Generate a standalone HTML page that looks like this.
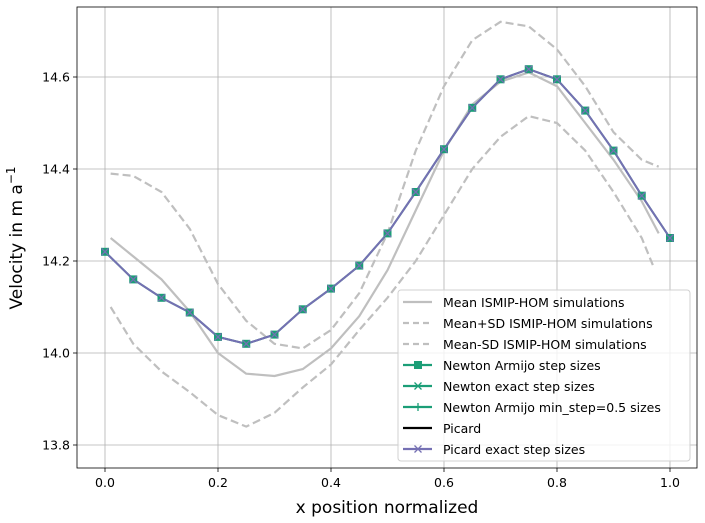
<!DOCTYPE html>
<html><head><meta charset="utf-8"><style>
body{margin:0;background:#fff;font-family:"DejaVu Sans","Liberation Sans",sans-serif}
svg{display:block}
</style></head><body>
<svg id="chart" width="705" height="523" xmlns="http://www.w3.org/2000/svg" font-family="DejaVu Sans, Liberation Sans, sans-serif"></svg>
<script>
const xTicks=[0.0,0.2,0.4,0.6,0.8,1.0];
const yTicks=[13.8,14.0,14.2,14.4,14.6];
const solX=[0,0.05,0.1,0.15,0.2,0.25,0.3,0.35,0.4,0.45,0.5,0.55,0.6,0.65,0.7,0.75,0.8,0.85,0.9,0.95,1.0];
const solY=[14.22,14.16,14.12,14.088,14.035,14.02,14.04,14.095,14.14,14.19,14.26,14.35,14.443,14.533,14.595,14.617,14.595,14.527,14.44,14.342,14.25];
const meanX=[0.01,0.05,0.1,0.15,0.2,0.25,0.3,0.35,0.4,0.45,0.5,0.55,0.6,0.65,0.7,0.75,0.8,0.85,0.9,0.95,0.98];
const meanY=[14.25,14.21,14.16,14.09,14.0,13.955,13.95,13.965,14.01,14.08,14.18,14.31,14.44,14.54,14.59,14.61,14.58,14.5,14.42,14.33,14.26];
const upY=[14.39,14.385,14.35,14.27,14.15,14.07,14.02,14.01,14.05,14.13,14.26,14.44,14.58,14.68,14.72,14.71,14.66,14.58,14.48,14.42,14.405];
const lowX=[0.01,0.05,0.1,0.15,0.2,0.25,0.3,0.35,0.4,0.45,0.5,0.55,0.6,0.65,0.7,0.75,0.8,0.85,0.9,0.95,0.97];
const lowY=[14.10,14.02,13.96,13.915,13.865,13.84,13.87,13.925,13.975,14.05,14.12,14.2,14.3,14.4,14.47,14.515,14.50,14.44,14.35,14.25,14.19];

const L=77,R=697,T=7,B=468;
const sx=v=>105+v*565;
const sy=v=>353-(v-14.0)*460;
const svg=document.getElementById('chart');
const NS='http://www.w3.org/2000/svg';
function el(tag,attrs,parent){const e=document.createElementNS(NS,tag);for(const k in attrs)e.setAttribute(k,attrs[k]);(parent||svg).appendChild(e);return e;}
function pts(xs,ys){return xs.map((x,i)=>sx(x)+','+sy(ys[i])).join(' ');}

xTicks.forEach(t=>{
  const g=el('line',{x1:sx(t),x2:sx(t),y1:T,y2:B,stroke:'#b0b0b0','stroke-width':0.8});
  
  
  el('line',{x1:sx(t),x2:sx(t),y1:B,y2:B+4,stroke:'#000','stroke-width':0.8});
  const tx=el('text',{x:sx(t),y:B+19,'text-anchor':'middle','font-size':12.5,fill:'#000'});
  tx.textContent=t.toFixed(1);
  
  
});
yTicks.forEach(t=>{
  const g=el('line',{x1:L,x2:R,y1:sy(t),y2:sy(t),stroke:'#b0b0b0','stroke-width':0.8});
  
  
  el('line',{x1:L-4,x2:L,y1:sy(t),y2:sy(t),stroke:'#000','stroke-width':0.8});
  const tx=el('text',{x:L-7,y:sy(t)+4.5,'text-anchor':'end','font-size':12.5,fill:'#000'});
  tx.textContent=t.toFixed(1);
  
  
});

const m=el('polyline',{points:pts(meanX,meanY),fill:'none',stroke:'#bfbfbf','stroke-width':2.2,'stroke-linejoin':'round'});


const u=el('polyline',{points:pts(meanX,upY),fill:'none',stroke:'#bfbfbf','stroke-width':2.2,'stroke-dasharray':'8,4'});


const lo=el('polyline',{points:pts(lowX,lowY),fill:'none',stroke:'#bfbfbf','stroke-width':2.2,'stroke-dasharray':'8,4'});



const s1=el('polyline',{points:pts(solX,solY),fill:'none',stroke:'#1b9e77','stroke-width':2});


const s2=el('polyline',{points:pts(solX,solY),fill:'none',stroke:'#000','stroke-width':1.5});


const s3=el('polyline',{points:pts(solX,solY),fill:'none',stroke:'#7570b3','stroke-width':2});


solX.forEach((x,i)=>{
  const r=el('rect',{x:sx(x)-4,y:sy(solY[i])-4,width:8,height:8,fill:'#1b9e77'});
  
  
  const c=el('path',{d:`M${sx(x)-3.5},${sy(solY[i])-3.5}l7,7M${sx(x)-3.5},${sy(solY[i])+3.5}l7,-7`,stroke:'#7570b3','stroke-width':1.3});
  
  
});

const fr=el('rect',{x:L,y:T,width:R-L,height:B-T,fill:'none',stroke:'#000','stroke-width':0.8});



const xl=el('text',{x:387,y:513,'text-anchor':'middle','font-size':17,fill:'#000'});
xl.textContent='x position normalized';


const yl=el('text',{transform:'translate(22,238) rotate(-90)','text-anchor':'middle','font-size':17,fill:'#000'});
yl.innerHTML='Velocity in m a<tspan dy="-7" font-size="12">−1</tspan>';



const lg=el('g',{});


el('rect',{x:398,y:290,width:292,height:171,rx:3,fill:'#fff','fill-opacity':0.8,stroke:'#d0d0d0'},lg);
const entries=[
 ['Mean ISMIP-HOM simulations','#bfbfbf',null,null],
 ['Mean+SD ISMIP-HOM simulations','#bfbfbf','6,4',null],
 ['Mean-SD ISMIP-HOM simulations','#bfbfbf','6,4',null],
 ['Newton Armijo step sizes','#1b9e77',null,'sq'],
 ['Newton exact step sizes','#1b9e77',null,'x'],
 ['Newton Armijo min_step=0.5 sizes','#1b9e77',null,'+'],
 ['Picard','#000',null,null],
 ['Picard exact step sizes','#7570b3',null,'xp']];
entries.forEach((e,i)=>{
  const y=302+i*21;
  const g=el('g',{},lg);
  
  
  const a={x1:403,x2:432,y1:y,y2:y,stroke:e[1],'stroke-width':2.2};
  if(e[2])a['stroke-dasharray']=e[2];
  el('line',a,g);
  if(e[3]==='sq')el('rect',{x:414,y:y-4,width:8,height:8,fill:e[1]},g);
  if(e[3]==='x'||e[3]==='xp')el('path',{d:`M414.5,${y-3.5}l7,7M414.5,${y+3.5}l7,-7`,stroke:e[1],'stroke-width':1.3},g);
  if(e[3]==='+')el('path',{d:`M418,${y-4}v8`,stroke:e[1],'stroke-width':1.3},g);
  const t=el('text',{x:443,y:y+5,'font-size':12.5,fill:'#000'},g);
  t.textContent=e[0];
});
</script>
</body></html>
